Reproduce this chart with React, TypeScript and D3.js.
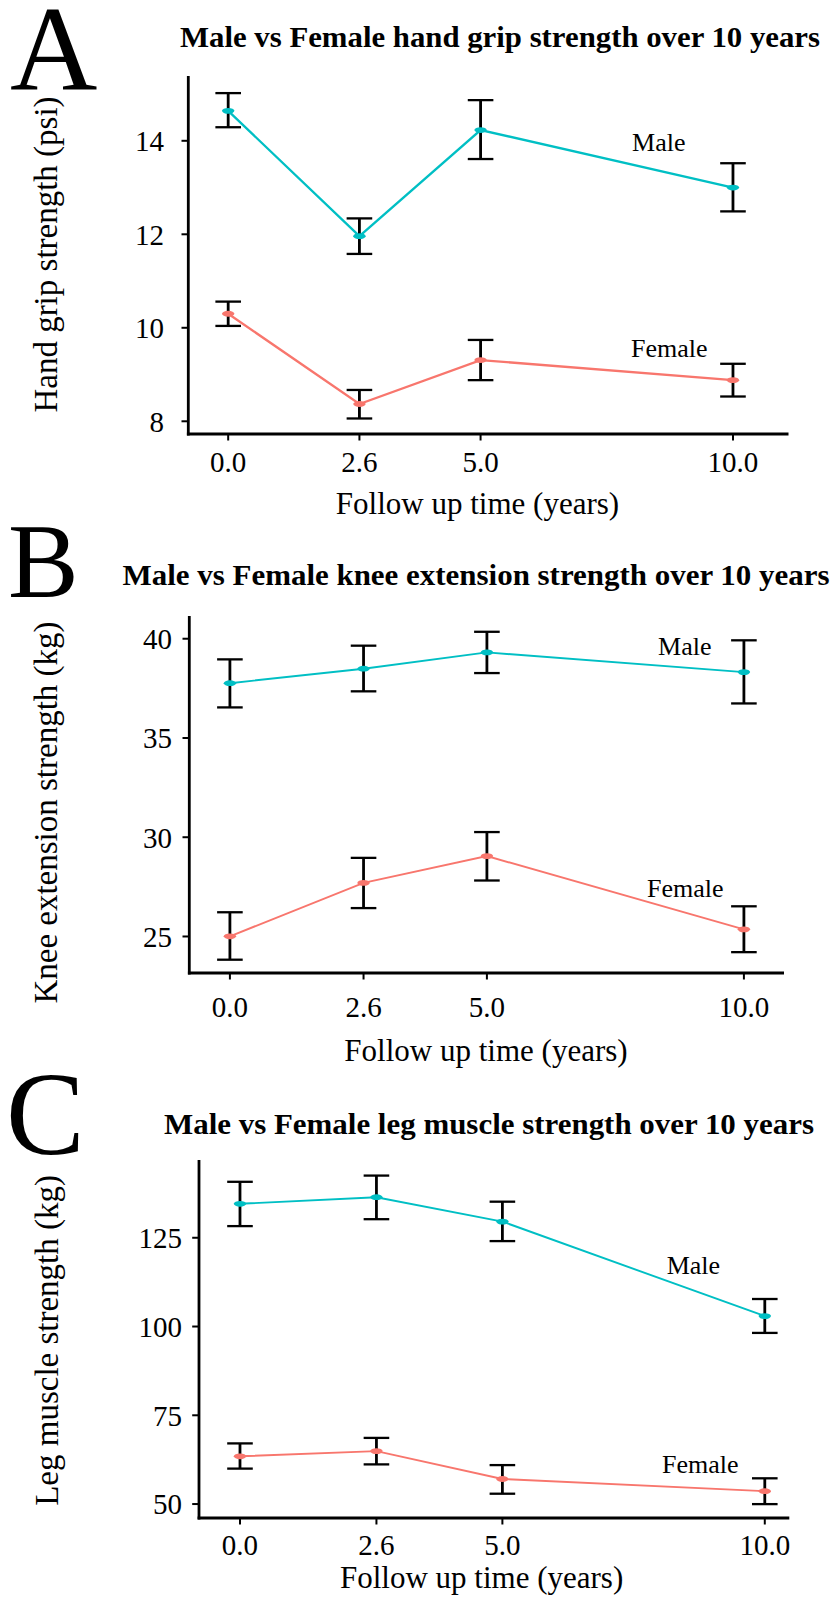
import React from "react";
import * as d3 from "d3";

// ---------- data ----------
const followUpYears = [0, 2.6, 5, 10];
const followUpLabels = ["0.0", "2.6", "5.0", "10.0"];
const groupNames = ["Male", "Female"];

// Hand grip strength (psi)
const gripMaleMean = [14.64, 11.96, 14.23, 13.0];
const gripMaleLow = [14.29, 11.58, 13.61, 12.49];
const gripMaleHigh = [15.02, 12.34, 14.87, 13.52];
const gripFemaleMean = [10.3, 8.37, 9.31, 8.88];
const gripFemaleLow = [10.04, 8.06, 8.88, 8.53];
const gripFemaleHigh = [10.56, 8.67, 9.74, 9.23];
const gripTicks = [8, 10, 12, 14];
const gripLabelPos = [[8.53, 13.78], [8.74, 9.38]];

// Knee extension strength (kg)
const kneeMaleMean = [37.76, 38.49, 39.31, 38.32];
const kneeMaleLow = [36.54, 37.35, 38.27, 36.74];
const kneeMaleHigh = [38.96, 39.65, 40.35, 39.92];
const kneeFemaleMean = [25.01, 27.7, 29.05, 25.36];
const kneeFemaleLow = [23.83, 26.43, 27.82, 24.21];
const kneeFemaleHigh = [26.22, 28.96, 30.26, 26.52];
const kneeTicks = [25, 30, 35, 40];
const kneeLabelPos = [[8.85, 39.18], [8.86, 27.0]];

// Leg muscle strength (kg)
const legMaleMean = [134.57, 136.42, 129.55, 102.93];
const legMaleLow = [128.28, 130.23, 124.06, 98.2];
const legMaleHigh = [140.76, 142.51, 135.16, 107.75];
const legFemaleMean = [63.45, 64.91, 57.05, 53.62];
const legFemaleLow = [59.98, 61.17, 52.91, 49.98];
const legFemaleHigh = [67.08, 68.63, 60.97, 57.25];
const legTicks = [50, 75, 100, 125];
const legLabelPos = [[8.64, 114.79], [8.77, 58.66]];

// ---------- styling ----------
const MALE_COLOR = "#00BFC4";
const FEMALE_COLOR = "#F8766D";
const FONT = "'Liberation Serif', 'Times New Roman', Times, serif";

const xAxisTitle = "Follow up time (years)";

type Series = {
  name: string;
  color: string;
  mean: number[];
  low: number[];
  high: number[];
  label: number[];
};

type PanelCfg = {
  letter: string;
  letterX: number;
  letterY: number;
  letterSize: number;
  title: string;
  titleX: number;
  titleY: number;
  titleLen: number;
  yTitle: string;
  yTitleX: number;
  yTitleY: number;
  left: number;
  right: number;
  top: number;
  bottom: number;
  xDomain: [number, number];
  yDomain: [number, number];
  yTicks: number[];
  yLabelEnd: number;
  xTickBaseline: number;
  xTitleX: number;
  xTitleY: number;
  lineWidth: number;
  series: Series[];
};

const panels: PanelCfg[] = [
  {
    letter: "A",
    letterX: 10,
    letterY: 90,
    letterSize: 121,
    title: "Male vs Female hand grip strength over 10 years",
    titleX: 180,
    titleY: 46.7,
    titleLen: 640,
    yTitle: "Hand grip strength (psi)",
    yTitleX: 57,
    yTitleY: 254.5,
    left: 188.3,
    right: 788.5,
    top: 76,
    bottom: 434,
    xDomain: [-0.79, 11.1],
    yDomain: [7.728, 15.386],
    yTicks: gripTicks,
    yLabelEnd: 164,
    xTickBaseline: 472,
    xTitleX: 477.5,
    xTitleY: 514,
    lineWidth: 2.3,
    series: [
      { name: groupNames[0], color: MALE_COLOR, mean: gripMaleMean, low: gripMaleLow, high: gripMaleHigh, label: gripLabelPos[0] },
      { name: groupNames[1], color: FEMALE_COLOR, mean: gripFemaleMean, low: gripFemaleLow, high: gripFemaleHigh, label: gripLabelPos[1] },
    ],
  },
  {
    letter: "B",
    letterX: 8,
    letterY: 597,
    letterSize: 106,
    title: "Male vs Female knee extension strength over 10 years",
    titleX: 122.5,
    titleY: 585,
    titleLen: 707,
    yTitle: "Knee extension strength (kg)",
    yTitleX: 57,
    yTitleY: 812.5,
    left: 189.3,
    right: 784,
    top: 616,
    bottom: 973,
    xDomain: [-0.79, 10.78],
    yDomain: [23.16, 41.145],
    yTicks: kneeTicks,
    yLabelEnd: 172,
    xTickBaseline: 1017,
    xTitleX: 486,
    xTitleY: 1061,
    lineWidth: 1.9,
    series: [
      { name: groupNames[0], color: MALE_COLOR, mean: kneeMaleMean, low: kneeMaleLow, high: kneeMaleHigh, label: kneeLabelPos[0] },
      { name: groupNames[1], color: FEMALE_COLOR, mean: kneeFemaleMean, low: kneeFemaleLow, high: kneeFemaleHigh, label: kneeLabelPos[1] },
    ],
  },
  {
    letter: "C",
    letterX: 6,
    letterY: 1154,
    letterSize: 118,
    title: "Male vs Female leg muscle strength over 10 years",
    titleX: 164,
    titleY: 1134.4,
    titleLen: 650,
    yTitle: "Leg muscle strength (kg)",
    yTitleX: 58,
    yTitleY: 1340.4,
    left: 199,
    right: 789.3,
    top: 1160,
    bottom: 1518,
    xDomain: [-0.781, 10.467],
    yDomain: [46.07, 146.9],
    yTicks: legTicks,
    yLabelEnd: 182,
    xTickBaseline: 1555,
    xTitleX: 481.6,
    xTitleY: 1588,
    lineWidth: 1.9,
    series: [
      { name: groupNames[0], color: MALE_COLOR, mean: legMaleMean, low: legMaleLow, high: legMaleHigh, label: legLabelPos[0] },
      { name: groupNames[1], color: FEMALE_COLOR, mean: legFemaleMean, low: legFemaleLow, high: legFemaleHigh, label: legLabelPos[1] },
    ],
  },
];

function Panel({ p }: { p: PanelCfg }) {
  const x = d3.scaleLinear().domain(p.xDomain).range([p.left, p.right]);
  const y = d3.scaleLinear().domain(p.yDomain).range([p.bottom, p.top]);
  const line = d3
    .line<number>()
    .x((_, i) => x(followUpYears[i]))
    .y((d) => y(d));
  const capHalf = 12.8;

  return (
    <g>
      <text x={p.letterX} y={p.letterY} fontFamily={FONT} fontSize={p.letterSize} fill="#000">
        {p.letter}
      </text>
      <text
        x={p.titleX}
        y={p.titleY}
        fontFamily={FONT}
        fontWeight="bold"
        fontSize={29}
        textLength={p.titleLen}
        lengthAdjust="spacingAndGlyphs"
        fill="#000"
      >
        {p.title}
      </text>

      {/* axes */}
      <line x1={p.left} y1={p.top} x2={p.left} y2={p.bottom + 1.4} stroke="#000" strokeWidth={2.8} />
      <line x1={p.left - 1.4} y1={p.bottom} x2={p.right} y2={p.bottom} stroke="#000" strokeWidth={2.8} />

      {p.yTicks.map((t) => (
        <g key={"yt" + t}>
          <line x1={p.left - 6.8} x2={p.left} y1={y(t)} y2={y(t)} stroke="#000" strokeWidth={2} />
          <text
            x={p.yLabelEnd}
            y={y(t)}
            dy="0.36em"
            textAnchor="end"
            fontFamily={FONT}
            fontSize={29}
            fill="#000"
          >
            {t}
          </text>
        </g>
      ))}

      {followUpYears.map((v, i) => (
        <g key={"xt" + i}>
          <line x1={x(v)} x2={x(v)} y1={p.bottom} y2={p.bottom + 6.5} stroke="#000" strokeWidth={2} />
          <text
            x={x(v)}
            y={p.xTickBaseline}
            textAnchor="middle"
            fontFamily={FONT}
            fontSize={29}
            fill="#000"
          >
            {followUpLabels[i]}
          </text>
        </g>
      ))}

      <text x={p.xTitleX} y={p.xTitleY} textAnchor="middle" fontFamily={FONT} fontSize={31} fill="#000">
        {xAxisTitle}
      </text>
      <text
        transform={`translate(${p.yTitleX},${p.yTitleY}) rotate(-90)`}
        textAnchor="middle"
        fontFamily={FONT}
        fontSize={33}
        fill="#000"
      >
        {p.yTitle}
      </text>

      {/* lines */}
      {p.series.map((s) => (
        <path key={"l" + s.name} d={line(s.mean) || ""} fill="none" stroke={s.color} strokeWidth={p.lineWidth} />
      ))}

      {/* error bars */}
      {p.series.map((s) =>
        followUpYears.map((v, i) => (
          <g key={"e" + s.name + i} stroke="#000">
            <line x1={x(v)} x2={x(v)} y1={y(s.low[i])} y2={y(s.high[i])} strokeWidth={2.8} />
            <line x1={x(v) - capHalf} x2={x(v) + capHalf} y1={y(s.high[i])} y2={y(s.high[i])} strokeWidth={2.3} />
            <line x1={x(v) - capHalf} x2={x(v) + capHalf} y1={y(s.low[i])} y2={y(s.low[i])} strokeWidth={2.3} />
          </g>
        ))
      )}

      {/* points */}
      {p.series.map((s) =>
        followUpYears.map((v, i) => (
          <ellipse key={"p" + s.name + i} cx={x(v)} cy={y(s.mean[i])} rx={6.2} ry={2.9} fill={s.color} />
        ))
      )}

      {/* group labels */}
      {p.series.map((s) => (
        <text
          key={"lab" + s.name}
          x={x(s.label[0])}
          y={y(s.label[1])}
          textAnchor="middle"
          fontFamily={FONT}
          fontSize={26}
          fill="#000"
        >
          {s.name}
        </text>
      ))}
    </g>
  );
}

export default function App() {
  return (
    <svg
      width={834}
      height={1597}
      viewBox="0 0 834 1597"
      style={{ position: "absolute", left: 0, top: 0, display: "block", background: "#fff" }}
    >
      <rect x={0} y={0} width={834} height={1597} fill="#fff" />
      {panels.map((p) => (
        <Panel key={p.letter} p={p} />
      ))}
    </svg>
  );
}
